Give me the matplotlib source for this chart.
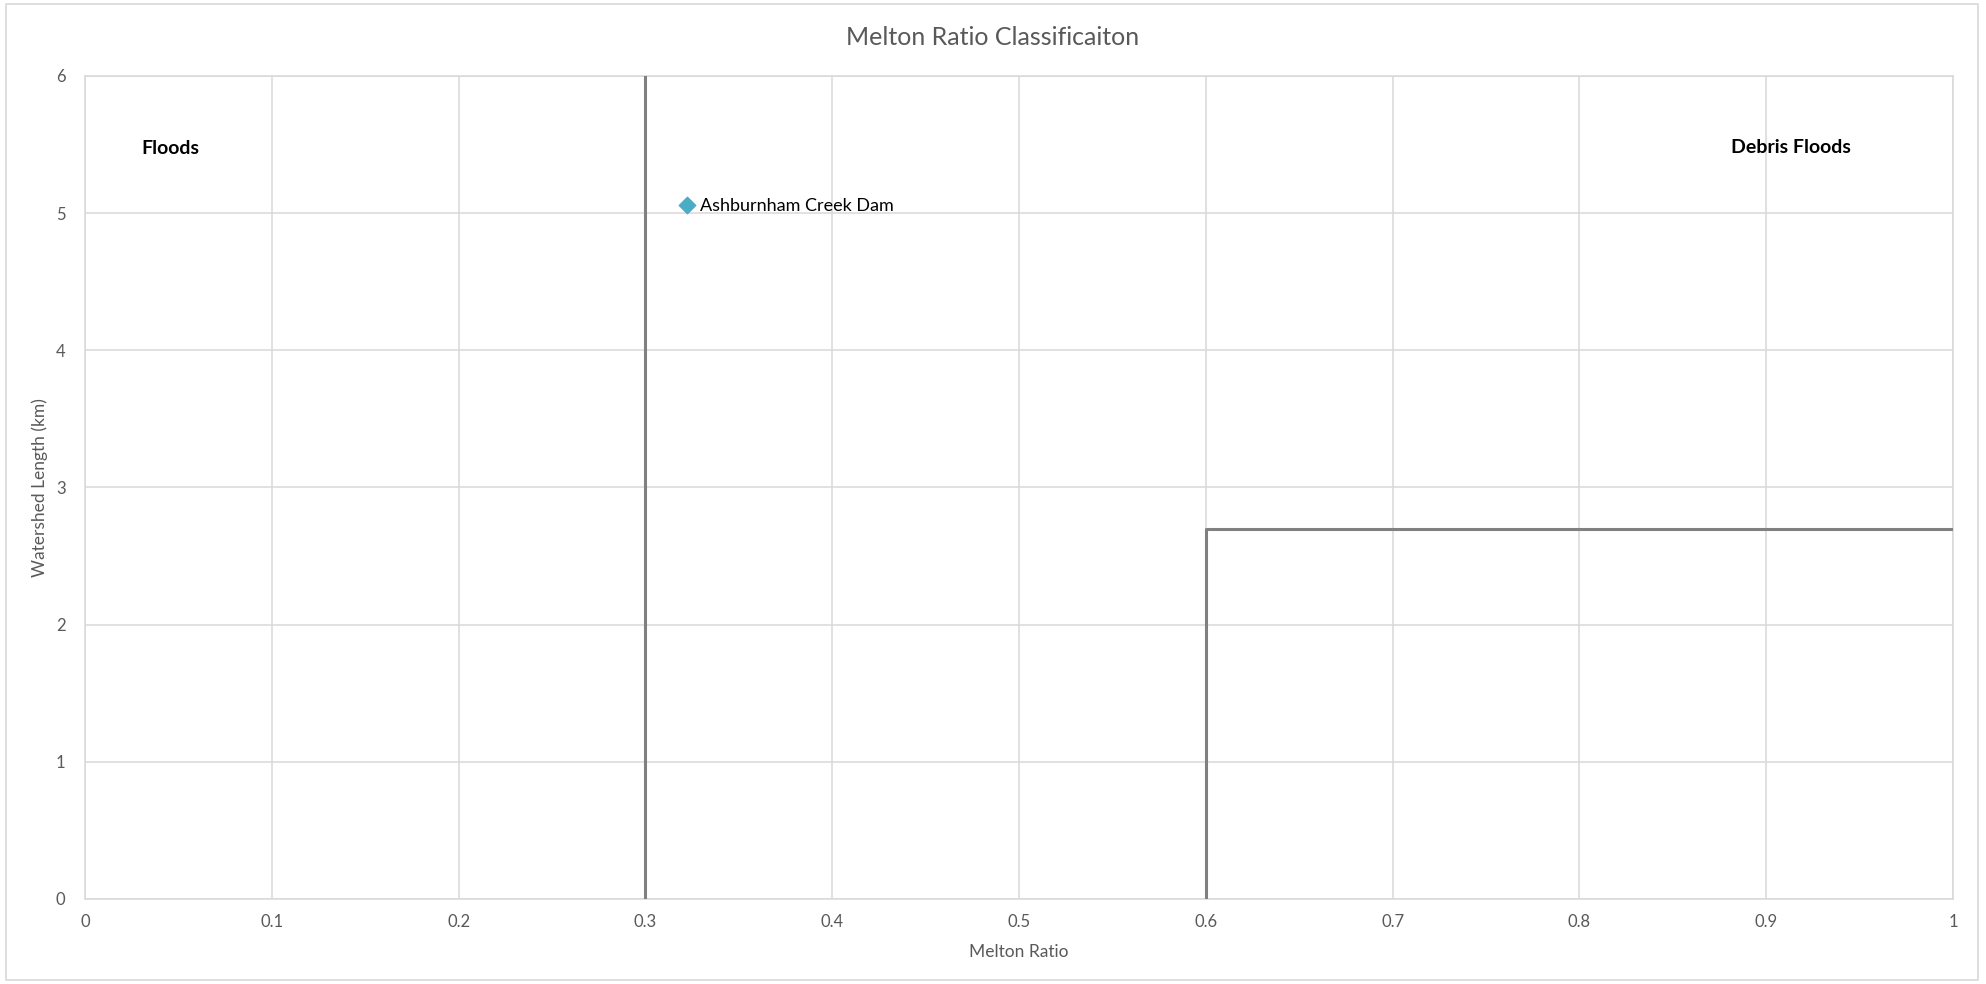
import matplotlib.pyplot as plt
from matplotlib.patches import Rectangle

# data
site_names = ['Ashburnham Creek Dam']
melton_ratio = [0.322]
watershed_length = [5.06]

# classification boundaries
floods_x = [0.3, 0.3]
floods_y = [0, 6]
debris_x = [0.6, 0.6, 1.0]
debris_y = [0, 2.7, 2.7]

region_labels = ['Floods', 'Debris Floods']
region_x = [0.0455, 0.913]
region_y = [5.47, 5.48]

x_ticks = [0, 0.1, 0.2, 0.3, 0.4, 0.5, 0.6, 0.7, 0.8, 0.9, 1]
x_tick_labels = ['0', '0.1', '0.2', '0.3', '0.4', '0.5', '0.6', '0.7', '0.8', '0.9', '1']
y_ticks = [0, 1, 2, 3, 4, 5, 6]

plt.rcParams['font.family'] = ['Lato', 'DejaVu Sans']
text_grey = '#595959'
grid_grey = '#d9d9d9'

fig = plt.figure(figsize=(19.86, 9.84), dpi=100)
ax = fig.add_axes([0.0428, 0.0864, 0.9406, 0.8364])

# chart border
fig.patches.append(Rectangle((0.003, 0.004), 0.993, 0.992, transform=fig.transFigure,
                             fill=False, edgecolor=grid_grey, linewidth=1.2))

ax.plot(floods_x, floods_y, color='#808080', linewidth=2.2, zorder=3)
ax.plot(debris_x, debris_y, color='#808080', linewidth=2.2, zorder=3)

ax.scatter(melton_ratio, watershed_length, marker='D', s=70, color='#4bacc6', zorder=4)
for name, x, y in zip(site_names, melton_ratio, watershed_length):
    ax.annotate(name, (x, y), xytext=(10, -1), textcoords='offset points',
                va='center', ha='left', fontsize=13, color='black')

for label, x, y in zip(region_labels, region_x, region_y):
    ax.text(x, y, label, ha='center', va='center', fontsize=14, fontweight='bold', color='black')

ax.set_xlim(0, 1)
ax.set_ylim(0, 6)
ax.set_xticks(x_ticks)
ax.set_xticklabels(x_tick_labels)
ax.set_yticks(y_ticks)
ax.grid(True, color=grid_grey, linewidth=1.1)
ax.set_axisbelow(True)
for s in ax.spines.values():
    s.set_color(grid_grey)
    s.set_linewidth(1.1)
ax.tick_params(length=0, labelsize=12, labelcolor=text_grey)
ax.tick_params(axis='x', pad=11)
ax.tick_params(axis='y', pad=14)

fig.suptitle('Melton Ratio Classificaiton', x=0.5, y=0.962, fontsize=18, color=text_grey,
             va='center')
ax.set_xlabel('Melton Ratio', fontsize=12.5, color=text_grey, labelpad=10)
ax.set_ylabel('Watershed Length (km)', fontsize=12.5, color=text_grey, labelpad=6)

fig.savefig('out.png', dpi=100)
